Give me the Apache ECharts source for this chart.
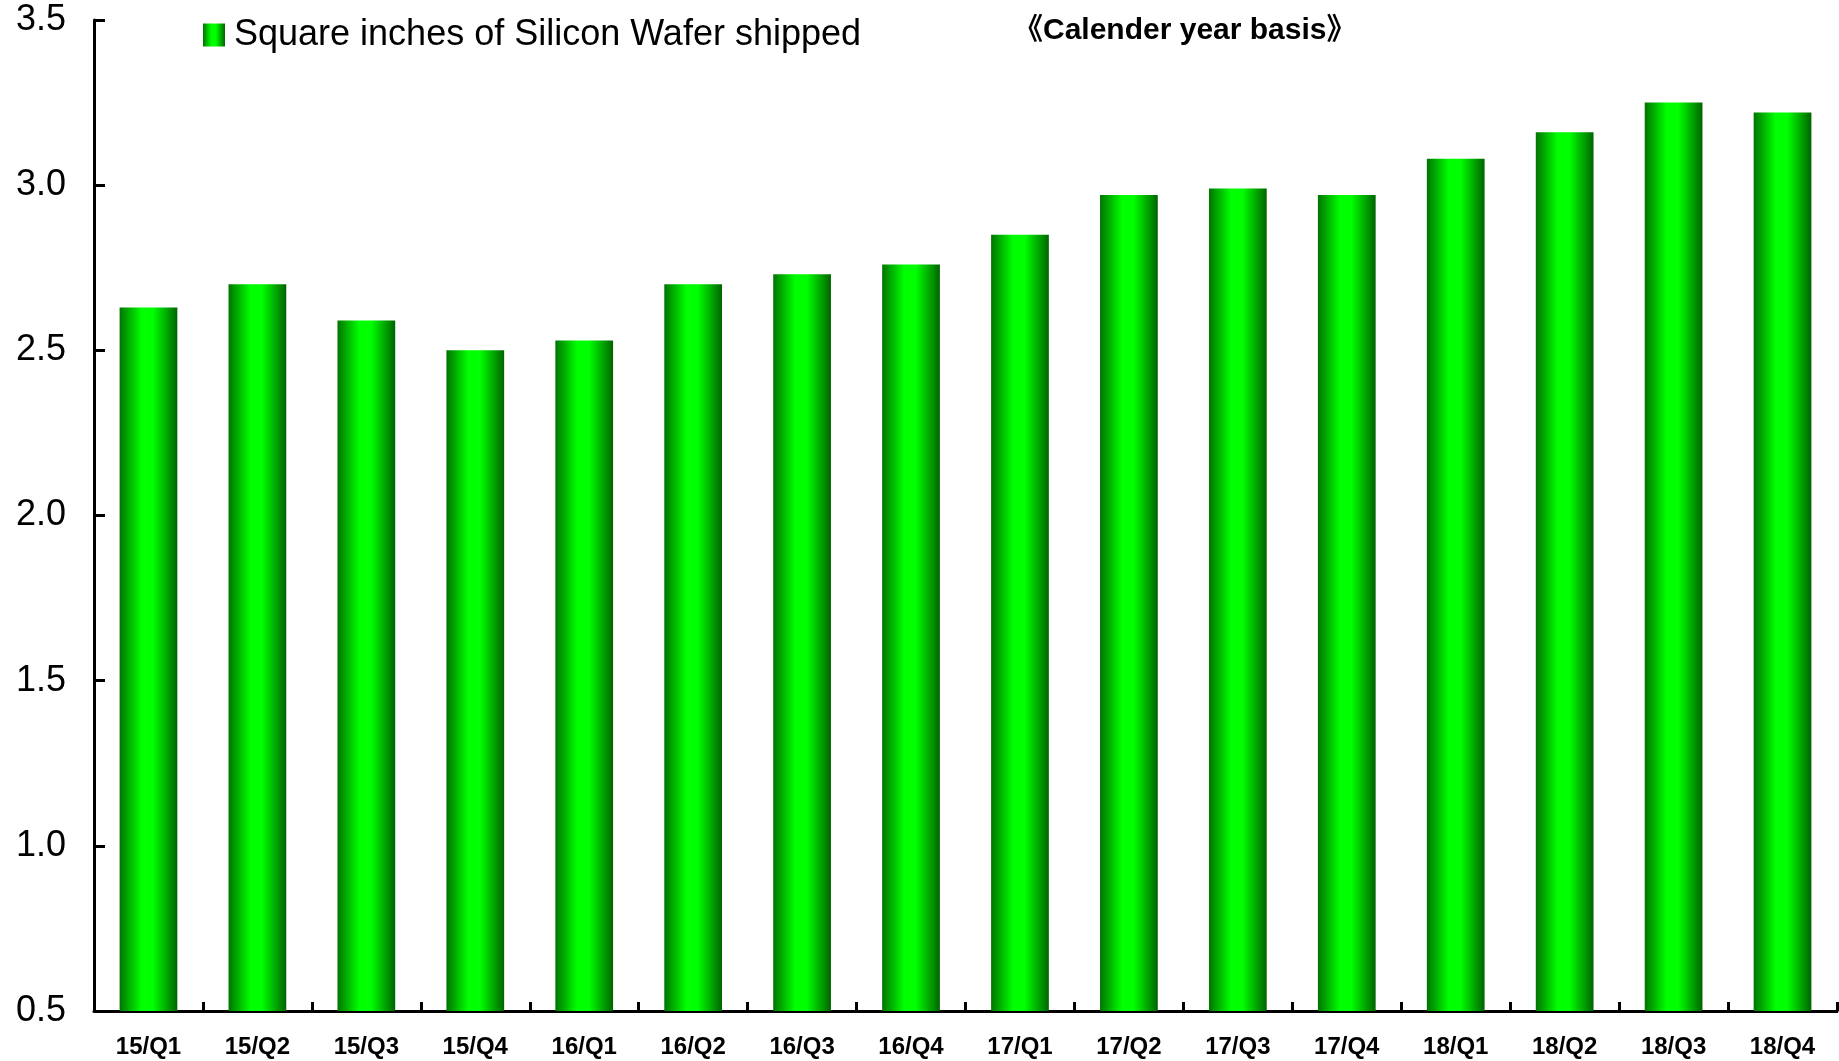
<!DOCTYPE html>
<html>
<head>
<meta charset="utf-8">
<title>Silicon Wafer Shipments</title>
<script src="https://cdn.jsdelivr.net/npm/echarts@6/dist/echarts.min.js"></script>
<style>
  html, body { margin: 0; padding: 0; background: #ffffff; }
  #chart { width: 1839px; height: 1061px; }
</style>
</head>
<body>
<div id="chart"></div>
<script>
// Quarterly shipments (calendar year basis)
const quarters = ['15/Q1', '15/Q2', '15/Q3', '15/Q4', '16/Q1', '16/Q2', '16/Q3', '16/Q4',
                  '17/Q1', '17/Q2', '17/Q3', '17/Q4', '18/Q1', '18/Q2', '18/Q3', '18/Q4'];
const shippedArea = [2.63, 2.70, 2.59, 2.50, 2.53, 2.70, 2.73, 2.76,
                     2.85, 2.97, 2.99, 2.97, 3.08, 3.16, 3.25, 3.22];
const seriesName = 'Square inches of Silicon Wafer shipped';
const basisNote = '《Calender year basis》';
const yMin = 0.5, yMax = 3.5, yStep = 0.5;

const FONT = '"Liberation Sans", Arial, "Noto Sans CJK SC", sans-serif';

// cylinder-like shading across each bar
const barFill = new echarts.graphic.LinearGradient(0, 0, 1, 0, [
  { offset: 0, color: '#007400' },
  { offset: 0.38, color: '#00ff00' },
  { offset: 0.58, color: '#00ff00' },
  { offset: 1, color: '#006400' }
]);

const chart = echarts.init(document.getElementById('chart'));
chart.setOption({
  backgroundColor: '#ffffff',
  animation: false,
  grid: { left: 94, right: 2, top: 20, bottom: 50, containLabel: false },
  title: {
    text: basisNote,
    left: 1008,
    top: 11,
    textStyle: { fontFamily: FONT, fontSize: 30, fontWeight: 'bold', color: '#000' }
  },
  legend: {
    left: 198,
    top: 12,
    icon: 'rect',
    itemWidth: 22,
    itemHeight: 23,
    itemGap: 10,
    textStyle: { fontFamily: FONT, fontSize: 36, color: '#000', padding: [0, 0, 0, 4] },
    data: [seriesName]
  },
  xAxis: {
    type: 'category',
    data: quarters,
    boundaryGap: true,
    axisLine: { lineStyle: { color: '#000', width: 3 } },
    axisTick: { show: true, inside: true, length: 9, lineStyle: { color: '#000', width: 3 } },
    axisLabel: {
      interval: 0,
      margin: 24,
      fontFamily: FONT,
      fontSize: 24,
      fontWeight: 'bold',
      color: '#000'
    },
    splitLine: { show: false }
  },
  yAxis: {
    type: 'value',
    min: yMin,
    max: yMax,
    interval: yStep,
    axisLine: { show: true, lineStyle: { color: '#000', width: 3 } },
    axisTick: { show: true, inside: true, length: 11, lineStyle: { color: '#000', width: 3 } },
    axisLabel: {
      margin: 28,
      fontFamily: FONT,
      fontSize: 36,
      color: '#000',
      formatter: v => v.toFixed(1)
    },
    splitLine: { show: false }
  },
  series: [{
    name: seriesName,
    type: 'bar',
    data: shippedArea,
    barWidth: '53%',
    itemStyle: { color: barFill }
  }]
});
</script>
</body>
</html>
